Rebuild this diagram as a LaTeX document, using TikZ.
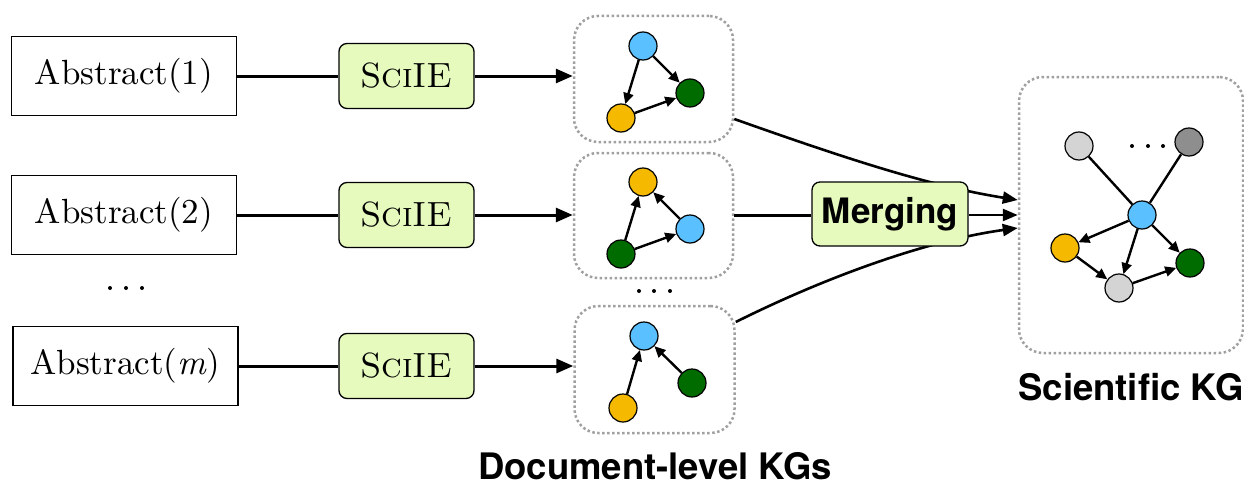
\documentclass[tikz,border=0pt]{standalone}
\usepackage{fontspec}
\setmainfont{lmroman10-regular.otf}[
  ItalicFont=lmroman10-italic.otf,
  BoldFont=lmroman10-bold.otf,
  SmallCapsFont=lmromancaps10-regular.otf]
\newfontfamily\labfont{TeX Gyre Heros}
\usetikzlibrary{arrows.meta,calc}

\definecolor{boxgreen}{RGB}{230,250,190}
\definecolor{dotgray}{RGB}{160,160,160}
\definecolor{entblue}{RGB}{90,192,255}
\definecolor{entorange}{RGB}{245,186,0}
\definecolor{entgreen}{RGB}{0,108,0}
\definecolor{entlight}{RGB}{212,212,212}
\definecolor{entdark}{RGB}{142,142,142}

\begin{document}
\begin{tikzpicture}[x=1pt,y=-1pt,
  every node/.style={inner sep=0pt},
  absbox/.style={draw, line width=1.3pt, minimum width=225pt, minimum height=79pt,
    font=\fontsize{35}{42}\selectfont},
  iebox/.style={draw, line width=1.3pt, rounded corners=8pt, fill=boxgreen,
    minimum width=135pt, minimum height=65pt, font=\fontsize{35}{42}\selectfont},
  kgbox/.style={draw=dotgray, line width=2.5pt, dash pattern=on 2.5pt off 2.5pt,
    rounded corners=24pt},
  ent/.style={circle, draw, line width=1.2pt, minimum size=28pt},
  flow/.style={line width=3pt},
  flowarrow/.style={flow, -{Triangle[length=17pt,width=14pt]}},
  mergearrow/.style={line width=2.6pt, -{Triangle[length=15pt,width=12pt]}},
  rel/.style={line width=2.4pt, -{Triangle[length=11pt,width=10pt]}},
  link/.style={line width=2.4pt},
  caption/.style={font=\labfont\bfseries\fontsize{36.5}{44}\selectfont}
]
\useasboundingbox (0,0) rectangle (1244,487);

% input abstracts
\node[absbox] (a1) at (124,76) {Abstract(1)};
\node[absbox] (a2) at (124,215) {Abstract(2)};
\node[absbox] (am) at (125.5,366) {Abstract(\textit{m})};
\foreach \x in {110,126,142} \fill (\x,288) circle (2pt);

% extraction boxes
\node[iebox] (s1) at (406.5,76) {\textsc{SciIE}};
\node[iebox] (s2) at (406.5,215) {\textsc{SciIE}};
\node[iebox] (sm) at (406.5,366) {\textsc{SciIE}};

% document-level graphs
\node[kgbox, minimum width=159pt, minimum height=126pt] (k1) at (653.5,79) {};
\node[kgbox, minimum width=159pt, minimum height=125pt] (k2) at (653.5,215.5) {};
\node[kgbox, minimum width=160pt, minimum height=127pt] (km) at (654.5,369.5) {};
\foreach \x in {639,654,670} \fill (\x,291) circle (2pt);

\node[ent, fill=entblue]   (k1b) at (643,46) {};
\node[ent, fill=entgreen]  (k1g) at (690,93) {};
\node[ent, fill=entorange] (k1o) at (621,118) {};
\draw[rel] (k1b) -- (k1o);
\draw[rel] (k1b) -- (k1g);
\draw[rel] (k1o) -- (k1g);

\node[ent, fill=entorange] (k2o) at (643,182) {};
\node[ent, fill=entblue]   (k2b) at (690,229) {};
\node[ent, fill=entgreen]  (k2g) at (621,254) {};
\draw[rel] (k2g) -- (k2o);
\draw[rel] (k2g) -- (k2b);
\draw[rel] (k2b) -- (k2o);

\node[ent, fill=entblue]   (kmb) at (644,336) {};
\node[ent, fill=entgreen]  (kmg) at (692,383) {};
\node[ent, fill=entorange] (kmo) at (623,408) {};
\draw[rel] (kmo) -- (kmb);
\draw[rel] (kmg) -- (kmb);

% scientific graph
\node[kgbox, minimum width=224pt, minimum height=276pt] (sci) at (1131,215) {};
\node[ent, fill=entlight]  (sg1) at (1079,146) {};
\node[ent, fill=entdark]   (sg2) at (1189,142) {};
\node[ent, fill=entblue]   (sb)  at (1142,215) {};
\node[ent, fill=entorange] (so)  at (1065,248) {};
\node[ent, fill=entgreen]  (sgr) at (1190,263) {};
\node[ent, fill=entlight]  (sg3) at (1119,288) {};
\foreach \x in {1132,1148,1163} \fill (\x,146) circle (2pt);
\draw[link] (sg1) -- (sb);
\draw[link] (sg2) -- (sb);
\draw[rel] (sb) -- (so);
\draw[rel] (sb) -- (sg3);
\draw[rel] (sb) -- (sgr);
\draw[rel] (so) -- (sg3);
\draw[rel] (sg3) -- (sgr);

% pipeline connectors
\draw[flow] (a1) -- (s1);
\draw[flow] (a2) -- (s2);
\draw[flow] (am) -- (sm);
\draw[flowarrow] (s1.east) -- (s1.east -| k1.west);
\draw[flowarrow] (s2.east) -- (s2.east -| k2.west);
\draw[flowarrow] (sm.east) -- (sm.east -| km.west);

% merging into the scientific graph
\coordinate (in1) at ([yshift=15pt]sci.west);
\coordinate (in3) at ([yshift=-13pt]sci.west);
\draw[mergearrow] ([yshift=-40pt]k1.east) .. controls (850,160) and (930,186) .. (in1);
\draw[mergearrow] ([yshift=47.5pt]km.east) .. controls (830,275) and (930,240) .. (in3);
\node[iebox, minimum width=156pt, minimum height=64pt,
  font=\labfont\bfseries\fontsize{35}{42}\selectfont] (mg) at (890,214) {Merging};
\draw[flow] (k2.east) -- (k2.east -| mg.west);
\draw[mergearrow] (mg.east |- sci.west) -- (sci.west);

% captions
\node[caption] (dl) at (655,466) {Document-level KGs};
\node[caption] (sl) at (1131,387) {Scientific KG};
\end{tikzpicture}
\end{document}
